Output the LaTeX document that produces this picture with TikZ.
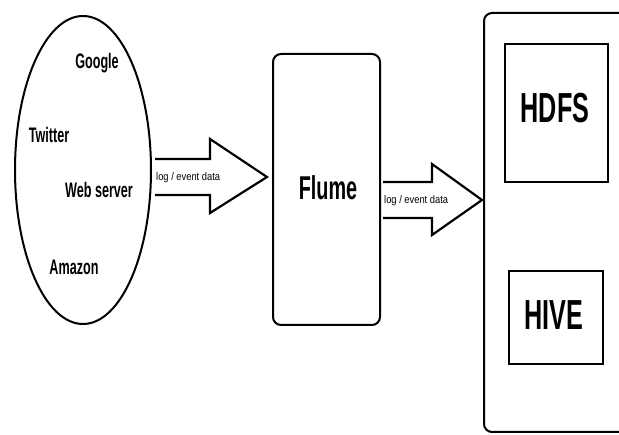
\documentclass[tikz,border=0pt]{standalone}
\usepackage{fontspec}
\setmainfont{Liberation Sans}
\newfontfamily\condbold[FakeStretch=0.6]{Liberation Sans Bold}
\newfontfamily\condreg[FakeStretch=0.85]{Liberation Sans}
\usetikzlibrary{shapes.geometric}
\begin{document}
\begin{tikzpicture}[x=1pt,y=-1pt,
  outline/.style={draw=black,line width=2pt},
  lbl/.style={inner sep=0pt,font=\condbold\fontsize{21}{21}\selectfont},
  big/.style={inner sep=0pt,font=\condbold\fontsize{42}{42}\selectfont},
  mid/.style={inner sep=0pt,font=\condbold\fontsize{33}{33}\selectfont},
  small/.style={inner sep=0pt,font=\condreg\fontsize{11}{11}\selectfont,anchor=west},
  blockarrow/.style={draw=black,line width=2.2pt,line join=miter,fill=white}
]
\useasboundingbox (0,0) rectangle (619,435);
% source ellipse
\node[ellipse,outline,minimum width=136pt,minimum height=308pt,inner sep=0pt] (src) at (83,170) {};
\node[lbl] (google) at (97,63) {Google};
\node[lbl] (twitter) at (49,135) {Twitter};
\node[lbl] (web) at (99,190) {Web server};
\node[lbl] (amazon) at (74,267) {Amazon};
% flume
\node[outline,rounded corners=8pt,minimum width=107pt,minimum height=271pt,inner sep=0pt] (flume) at (326.5,189.5) {};
\node[mid] (flumetxt) at (328,188) {Flume};
% arrow 1
\draw[blockarrow] (155,159) -- (210,159) -- (210,139) -- (267,177) -- (210,213) -- (210,195) -- (155,195);
\node[small] (lab1) at (156,178) {log / event data};
% arrow 2
\draw[blockarrow] (383,182) -- (432,182) -- (432,164) -- (482,200) -- (432,235) -- (432,218) -- (383,218);
\node[small] (lab2) at (384,201) {log / event data};
% storage box (cut off at right)
\draw[outline,rounded corners=8pt] (625,13) -- (484,13) -- (484,432) -- (625,432);
\node[outline,minimum width=103pt,minimum height=138pt,inner sep=0pt] (hdfs) at (556.5,113) {};
\node[big] (hdfstxt) at (555,108) {HDFS};
\node[outline,minimum width=94pt,minimum height=93pt,inner sep=0pt] (hive) at (556,317.5) {};
\node[big] (hivetxt) at (554,315) {HIVE};
\end{tikzpicture}
\end{document}
